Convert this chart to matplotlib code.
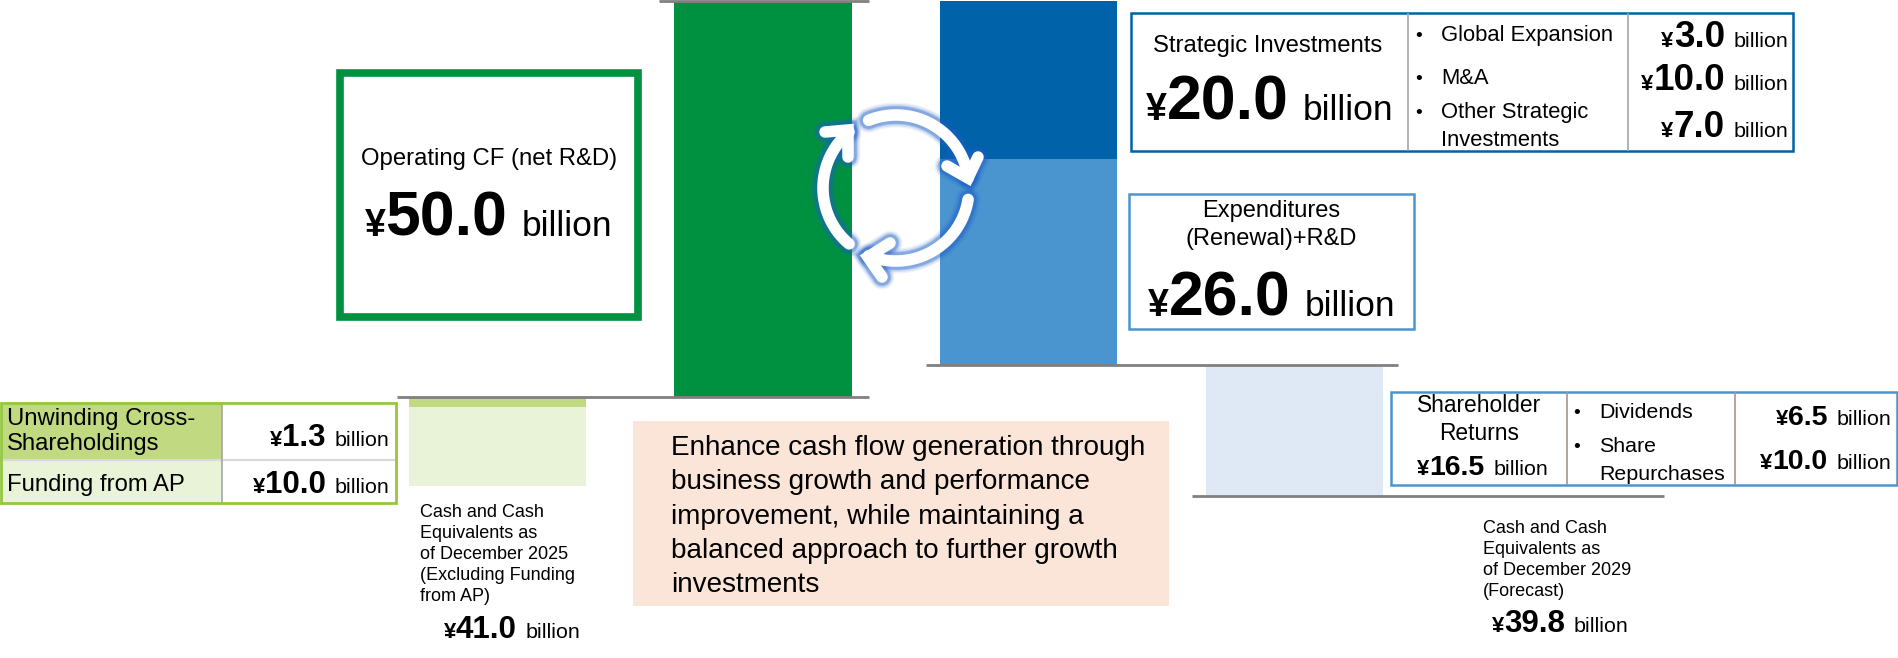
import matplotlib
matplotlib.use('Agg')
import matplotlib.pyplot as plt
import numpy as np
from matplotlib.patches import Rectangle

plt.rcParams['font.family'] = ['Liberation Sans', 'DejaVu Sans']

W, H = 1899, 658

# values, billion yen
cash_2025 = 41.0
funding_ap = 10.0
cross_holdings = 1.3
operating_cf = 50.0
strategic = 20.0
expenditures = 26.0
returns = 16.5
cash_2029 = 39.8

strategic_labels = ['Global Expansion', 'M&A', 'Other Strategic\nInvestments']
strategic_values = [3.0, 10.0, 7.0]
returns_labels = ['Dividends', 'Share\nRepurchases']
returns_values = [6.5, 10.0]
message = ['Enhance cash flow generation through',
           'business growth and performance',
           'improvement, while maintaining a',
           'balanced approach to further growth',
           'investments']

GREEN = '#009140'
LIME = '#C1DA82'
PALE_LIME = '#E9F3D8'
BLUE = '#0062A8'
MID_BLUE = '#4A94D0'
PALE_BLUE = '#DFE9F5'
GRAY = '#808080'

fig = plt.figure(figsize=(W / 100, H / 100), dpi=100, facecolor='white')

# waterfall axes, y in billion yen
level_start = cash_2025 + funding_ap + cross_holdings
level_top = level_start + operating_cf
level_exp = level_top - strategic
level_ret = level_exp - expenditures
level_end = level_ret - returns

px_per_bn = (397 - 1) / operating_cf
ax = fig.add_axes([0, 0, 1, 1])
ax.set_xlim(0, W)
ax.set_ylim(level_start - (H - 397) / px_per_bn, level_start + 397 / px_per_bn)
ax.axis('off')

ax.bar(763.5, operating_cf, 178, bottom=level_start, color=GREEN)
ax.bar(1029, strategic, 177, bottom=level_exp, color=BLUE)
ax.bar(1029, expenditures, 177, bottom=level_ret, color=MID_BLUE)
ax.bar(1294.5, returns, 177, bottom=level_end, color=PALE_BLUE)
ax.bar(497.5, funding_ap, 177, bottom=cash_2025, color=PALE_LIME)
ax.bar(497.5, cross_holdings, 177, bottom=cash_2025 + funding_ap, color=LIME)

ax.hlines(level_top, 659, 869, color=GRAY, lw=2)
ax.hlines(level_start, 397, 869, color=GRAY, lw=2)
ax.hlines(level_ret, 926, 1398, color=GRAY, lw=2)
ax.hlines(level_end, 1192, 1664, color=GRAY, lw=2)

# everything else in pixel coordinates
px = fig.add_axes([0, 0, 1, 1])
px.set_xlim(0, W)
px.set_ylim(H, 0)
px.axis('off')
px.patch.set_alpha(0)
renderer = fig.canvas.get_renderer()


def box(x0, y0, x1, y1, edge='none', face='none', lw=1.5, z=2):
    px.add_patch(Rectangle((x0, y0), x1 - x0, y1 - y0, ec=edge, fc=face, lw=lw, zorder=z))


def amount(x, y, value, big, small=15.4, yen=None, gap=0.55):
    # yen sign + bold number + "billion" on one baseline, right end at x
    yen = yen or big * 0.6
    parts = [('¥', yen, 'bold'), (f'{value:.1f}', big, 'bold'), ('billion', small, 'normal')]
    artists = [px.text(0, y, s, fontsize=fs, fontweight=fw, va='baseline', ha='left', color='black', zorder=5)
               for s, fs, fw in parts]
    widths = [a.get_window_extent(renderer).width for a in artists]
    space = small * gap
    cur = x - sum(widths) - space
    artists[0].set_x(cur)
    cur += widths[0]
    artists[1].set_x(cur)
    cur += widths[1] + space
    artists[2].set_x(cur)


def lines(x, y, pitch, rows, size, ha='left'):
    for i, row in enumerate(rows):
        px.text(x, y + i * pitch, row, fontsize=size, ha=ha, va='baseline', color='black', zorder=5)


# operating CF box
box(340, 73, 638, 317, edge=GREEN, lw=5.5)
lines(489, 165, 0, ['Operating CF (net R&D)'], 17.2, ha='center')
amount(612, 236, operating_cf, 45, 25.5, 27)

# strategic investments table
box(1131, 13, 1793, 151, edge=BLUE, face='white', lw=1.8)
px.plot([1408, 1408], [14, 150], color='#A6A6A6', lw=1.2, zorder=3)
px.plot([1628, 1628], [14, 150], color='#A6A6A6', lw=1.2, zorder=3)
lines(1268, 52, 0, ['Strategic Investments'], 17.2, ha='center')
amount(1393, 120, strategic, 45, 25.5, 27)
for y, row in zip([41, 84, 118], strategic_labels):
    lines(1415, y, 0, ['•'], 14)
    lines(1441, y, 28, row.split('\n'), 15.8)
for y, val in zip([47, 90, 137], strategic_values):
    amount(1788, y, val, 26.5, 15.4, 16)

# expenditures box
box(1129, 194, 1414, 329, edge=MID_BLUE, face='white', lw=1.8)
lines(1271, 217, 28, ['Expenditures', '(Renewal)+R&D'], 17, ha='center')
amount(1395, 316, expenditures, 45, 25.5, 27)

# shareholder returns table
box(1391, 392, 1897, 485, edge=MID_BLUE, face='white', lw=1.8)
px.plot([1567, 1567], [393, 484], color='#A6968F', lw=1.2, zorder=3)
px.plot([1735, 1735], [393, 484], color='#A6968F', lw=1.2, zorder=3)
lines(1479, 412, 28, ['Shareholder', 'Returns'], 16.4, ha='center')
amount(1548, 475, returns, 20.5, 15.4, 16)
for y, row in zip([418, 452], returns_labels):
    lines(1573, y, 0, ['•'], 14)
    lines(1599, y, 28, row.split('\n'), 15.4)
for y, val in zip([425, 469], returns_values):
    amount(1891, y, val, 20.5, 15.4, 16)

# left table
box(1, 403, 222, 460, face=LIME, z=1)
box(1, 460, 222, 503, face=PALE_LIME, z=1)
box(1, 403, 396, 503, edge='#92C83E', lw=2, z=3)
px.plot([1, 396], [460, 460], color='#D9D9D9', lw=1.5, zorder=2)
px.plot([222, 222], [403, 503], color='#A6A6A6', lw=1.2, zorder=2)
lines(7, 425, 25, ['Unwinding Cross-', 'Shareholdings'], 17.2)
lines(7, 491, 0, ['Funding from AP'], 17.2)
amount(389, 446, cross_holdings, 22.5, 15.4, 16)
amount(389, 493, funding_ap, 22.5, 15.4, 16)

# peach message box
box(633, 421, 1169, 606, face='#FBE5D8', z=1)
lines(671, 455, 34.3, message, 20.1)

# cash captions
lines(420, 517, 21, ['Cash and Cash', 'Equivalents as', 'of December 2025', '(Excluding Funding', 'from AP)'], 13)
amount(580, 638, cash_2025, 22.5, 15.4, 16)
lines(1483, 533, 21, ['Cash and Cash', 'Equivalents as', 'of December 2029', '(Forecast)'], 13)
amount(1628, 632, cash_2029, 22.5, 15.4, 16)

# cycle arrows
cx, cy, r = 896, 188, 73
arcs = [(112, 8), (-9, -112), (230, 130)]
heads = [[(978, 157), (968, 178), (947, 166)],
         [(890, 243), (868, 257), (882, 277)],
         [(825, 132), (848, 130), (848, 157)]]
for width, alpha in [(18, 0.08), (16, 0.12), (14, 0.18), (12.5, 0.3), (8.3, 1)]:
    color = 'white' if alpha == 1 else '#1F5FC8'
    for (a0, a1), head in zip(arcs, heads):
        t = np.radians(np.linspace(a0, a1, 60))
        px.plot(cx + r * np.cos(t), cy - r * np.sin(t), color=color, lw=width, alpha=alpha,
                solid_capstyle='round', zorder=4)
        px.plot(*zip(*head), color=color, lw=width, alpha=alpha,
                solid_capstyle='round', solid_joinstyle='miter', zorder=4)

fig.savefig('out.png', dpi=100)
